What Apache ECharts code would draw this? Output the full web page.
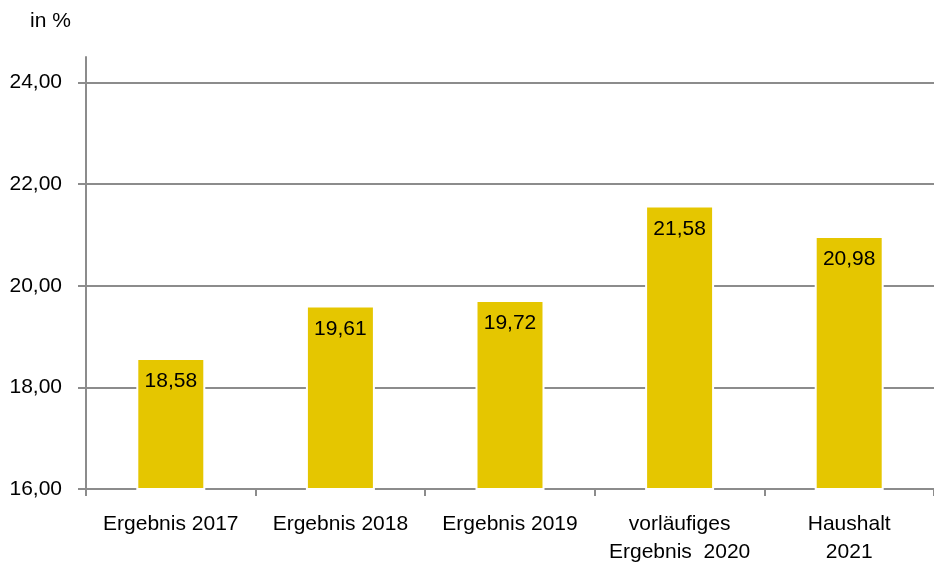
<!DOCTYPE html>
<html>
<head>
<meta charset="utf-8">
<script src="https://cdn.jsdelivr.net/npm/echarts@6/dist/echarts.min.js"></script>
<style>
  html, body { margin: 0; padding: 0; background: #fff; }
  #chart { width: 934px; height: 566px; }
</style>
</head>
<body>
<div id="chart"></div>
<script>
var categories = ['Ergebnis 2017', 'Ergebnis 2018', 'Ergebnis 2019', 'vorläufiges\nErgebnis  2020', 'Haushalt\n2021'];
var values = [18.58, 19.61, 19.72, 21.58, 20.98];
var yTicks = [16, 18, 20, 22, 24];

var FONT = '"Liberation Sans", Arial, sans-serif';
var gray = '#8c8c8c';

function fmt(v) {
  return v.toFixed(2).replace('.', ',');
}

var chart = echarts.init(document.getElementById('chart'));
chart.setOption({
  animation: false,
  textStyle: { fontFamily: FONT },
  grid: { left: 86, top: 57, width: 857, height: 432, containLabel: false },
  graphic: [{
    type: 'text', left: 30, top: 11,
    style: { text: 'in %', fontSize: 21, fontFamily: FONT, fill: '#000' }
  }],
  xAxis: {
    type: 'category',
    data: categories,
    boundaryGap: true,
    axisLine: { lineStyle: { color: gray, width: 2 } },
    axisTick: { show: true, length: 7, lineStyle: { color: gray, width: 2 } },
    axisLabel: { color: '#000', fontSize: 21, fontFamily: FONT, margin: 21, lineHeight: 28, interval: 0 }
  },
  yAxis: {
    type: 'value',
    min: 16,
    max: 24.5,
    axisLine: { show: true, lineStyle: { color: gray, width: 2 } },
    axisTick: { show: true, length: 8, customValues: yTicks, lineStyle: { color: gray, width: 2 } },
    axisLabel: {
      customValues: yTicks, color: '#000', fontSize: 21, fontFamily: FONT, margin: 24,
      formatter: function (v) { return fmt(v); }
    },
    splitLine: { show: true, lineStyle: { color: gray, width: 2 } }
  },
  series: [{
    type: 'bar',
    data: values,
    barWidth: 69,
    itemStyle: { color: '#e5c600', borderColor: '#fff', borderWidth: 2 },
    label: {
      show: true,
      position: 'insideTop',
      distance: 13,
      color: '#000',
      fontSize: 21,
      fontFamily: FONT,
      formatter: function (p) { return fmt(p.value); }
    }
  }]
});
</script>
</body>
</html>
